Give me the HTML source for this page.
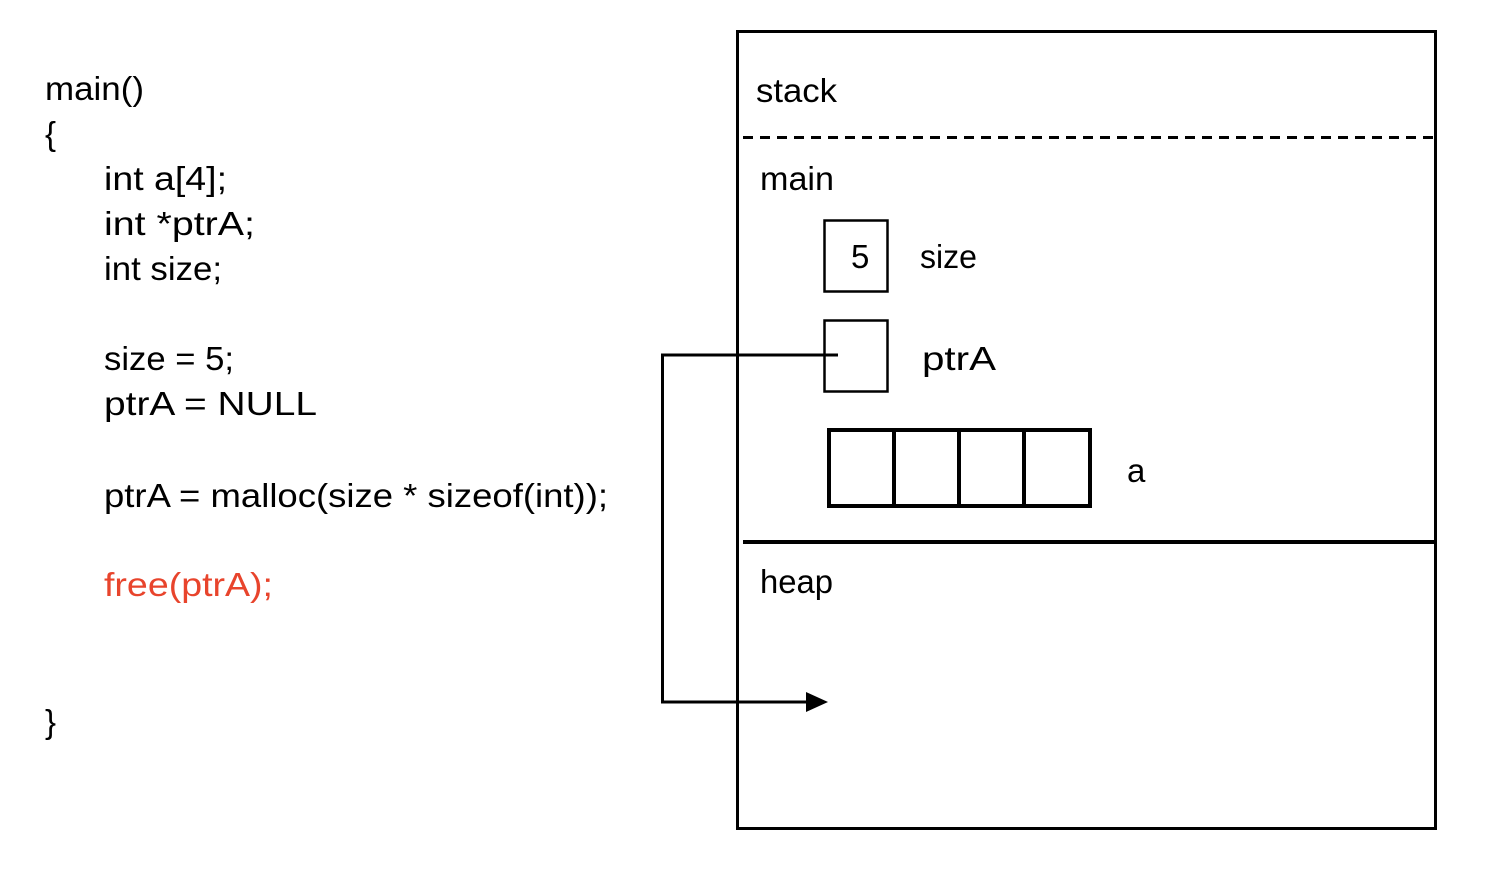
<!DOCTYPE html>
<html><head><meta charset="utf-8"><style>
html,body{margin:0;padding:0;background:#fff;}
svg{display:block;}
text{font-family:"Liberation Sans",sans-serif;font-size:33px;fill:#000;}
</style></head><body>
<svg width="1494" height="896" viewBox="0 0 1494 896" xmlns="http://www.w3.org/2000/svg">
<rect width="1494" height="896" fill="#fff"/>
<!-- code -->
<text x="45" y="100" textLength="99" lengthAdjust="spacingAndGlyphs">main()</text>
<text x="45" y="145">{</text>
<text x="104" y="190" textLength="123" lengthAdjust="spacingAndGlyphs">int a[4];</text>
<text x="104" y="235" textLength="151" lengthAdjust="spacingAndGlyphs">int *ptrA;</text>
<text x="104" y="280" textLength="118" lengthAdjust="spacingAndGlyphs">int size;</text>
<text x="104" y="370" textLength="130" lengthAdjust="spacingAndGlyphs">size = 5;</text>
<text x="104" y="415" textLength="213" lengthAdjust="spacingAndGlyphs">ptrA = NULL</text>
<text x="104" y="507" textLength="504" lengthAdjust="spacingAndGlyphs">ptrA = malloc(size * sizeof(int));</text>
<text x="104" y="596" textLength="169" lengthAdjust="spacingAndGlyphs" style="fill:#e8442c">free(ptrA);</text>
<text x="45" y="733">}</text>
<!-- memory box -->
<rect x="737.5" y="31.5" width="698" height="797" fill="none" stroke="#000" stroke-width="3"/>
<line x1="743" y1="137.5" x2="1433" y2="137.5" stroke="#000" stroke-width="3" stroke-dasharray="10,7"/>
<line x1="743" y1="542" x2="1436" y2="542" stroke="#000" stroke-width="4"/>
<text x="756" y="102" textLength="81" lengthAdjust="spacingAndGlyphs">stack</text>
<text x="760" y="190" textLength="74" lengthAdjust="spacingAndGlyphs">main</text>
<rect x="824.5" y="220.5" width="63" height="71" fill="none" stroke="#000" stroke-width="2.5"/>
<text x="851" y="268">5</text>
<text x="920" y="268" textLength="57" lengthAdjust="spacingAndGlyphs">size</text>
<rect x="824.5" y="320.5" width="63" height="71" fill="none" stroke="#000" stroke-width="2.5"/>
<text x="922" y="370" textLength="74" lengthAdjust="spacingAndGlyphs">ptrA</text>
<rect x="829" y="430" width="261" height="76" fill="none" stroke="#000" stroke-width="4"/>
<line x1="894" y1="430" x2="894" y2="506" stroke="#000" stroke-width="4"/>
<line x1="959" y1="430" x2="959" y2="506" stroke="#000" stroke-width="4"/>
<line x1="1024" y1="430" x2="1024" y2="506" stroke="#000" stroke-width="4"/>
<text x="1127" y="482">a</text>
<text x="760" y="593" textLength="73" lengthAdjust="spacingAndGlyphs">heap</text>
<!-- connector -->
<polyline points="838,355 662.5,355 662.5,702 812,702" fill="none" stroke="#000" stroke-width="3"/>
<polygon points="806,692 828,702 806,712" fill="#000"/>
</svg>
</body></html>
